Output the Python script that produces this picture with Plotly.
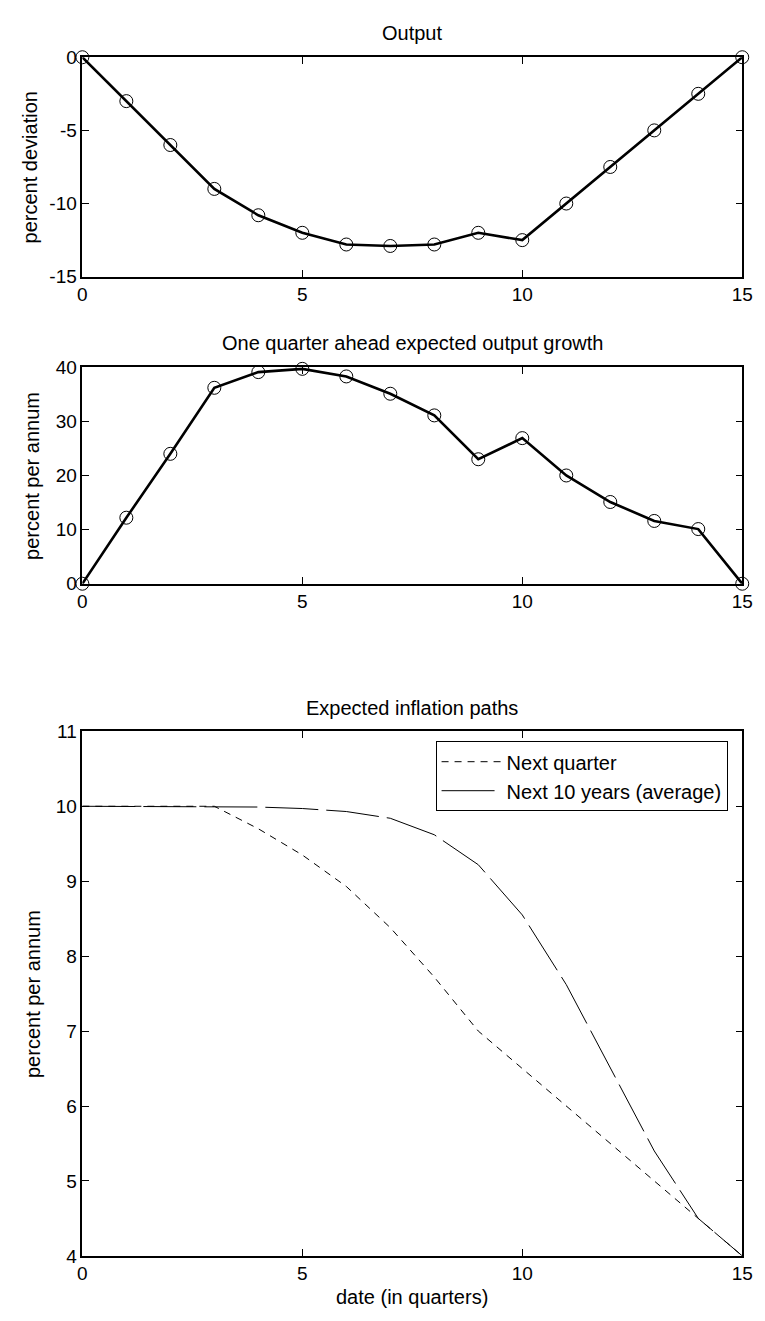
import plotly.graph_objects as go

quarters = list(range(16))
output_dev = [0, -3.0, -6.0, -9.0, -10.8, -12.0, -12.8, -12.9, -12.8, -12.0, -12.5, -10.0, -7.5, -5.0, -2.5, 0]
output_growth = [0, 12.2, 24.0, 36.2, 39.1, 39.7, 38.3, 35.1, 31.1, 23.0, 26.9, 20.0, 15.1, 11.6, 10.1, 0]
infl_next_quarter = [10, 10, 10, 10, 9.7, 9.35, 8.93, 8.38, 7.72, 7.0, 6.5, 6.0, 5.5, 5.0, 4.5, 4.0]
infl_next_10y = [10, 10, 10, 10, 9.99, 9.97, 9.93, 9.84, 9.62, 9.22, 8.55, 7.62, 6.5, 5.4, 4.5, 4.0]

titles = ["Output", "One quarter ahead expected output growth", "Expected inflation paths"]
ylabels = ["percent deviation", "percent per annum", "percent per annum"]
xlabel = "date (in quarters)"
legend_names = ["Next quarter", "Next 10 years (average)"]
xticks = [0, 5, 10, 15]
yticks1 = [-15, -10, -5, 0]
yticks2 = [0, 10, 20, 30, 40]
yticks3 = [4, 5, 6, 7, 8, 9, 10, 11]

W, H = 765, 1321
FONT = "Liberation Sans, Arial, Helvetica, sans-serif"
x0px, x1px = 79, 753
boxes = [(48, 271), (363, 583), (733, 1266)]  # top, bottom px

def ydom(t, b):
    return [1 - b / H, 1 - t / H]

fig = go.Figure()

fig.add_trace(go.Scatter(x=quarters, y=output_dev, mode="lines+markers",
                         line=dict(color="black", width=2.6),
                         marker=dict(symbol="circle-open", size=13, color="black", line=dict(width=1)),
                         cliponaxis=False, showlegend=False, xaxis="x", yaxis="y"))
fig.add_trace(go.Scatter(x=quarters, y=output_growth, mode="lines+markers",
                         line=dict(color="black", width=2.6),
                         marker=dict(symbol="circle-open", size=13, color="black", line=dict(width=1)),
                         cliponaxis=False, showlegend=False, xaxis="x2", yaxis="y2"))
fig.add_trace(go.Scatter(x=quarters, y=infl_next_quarter, mode="lines", name=legend_names[0],
                         line=dict(color="black", width=1, dash="7px,6px"),
                         xaxis="x3", yaxis="y3"))
fig.add_trace(go.Scatter(x=quarters, y=infl_next_10y, mode="lines", name=legend_names[1],
                         line=dict(color="black", width=1, dash="53px,8px"),
                         xaxis="x3", yaxis="y3"))

xdom = [x0px / W, x1px / W]
axis_common = dict(showline=True, linecolor="black", linewidth=1.5, mirror="ticks",
                   ticks="inside", ticklen=7, tickcolor="black", tickwidth=1,
                   showgrid=False, zeroline=False,
                   tickfont=dict(family=FONT, size=19, color="black"))

layout = dict(width=W, height=H, margin=dict(l=0, r=0, t=0, b=0),
              paper_bgcolor="white", plot_bgcolor="white",
              font=dict(family=FONT, size=20, color="black"))

yticks_all = [yticks1, yticks2, yticks3]
yranges = [[-15, 0], [0, 40], [4, 11]]
for i in range(3):
    s = "" if i == 0 else str(i + 1)
    layout["xaxis" + s] = dict(domain=xdom, range=[0, 15], tickvals=xticks,
                               ticktext=[str(v) for v in xticks],
                               anchor="y" + s, **axis_common)
    layout["yaxis" + s] = dict(domain=ydom(*boxes[i]), range=yranges[i], tickvals=yticks_all[i],
                               ticktext=[str(v) for v in yticks_all[i]],
                               anchor="x" + s, **axis_common)

annotations = []
ycenters_title = [23, 338, 709]
xcenter = (x0px + x1px) / 2 / W
for i in range(3):
    annotations.append(dict(text=titles[i], x=xcenter, y=1 - ycenters_title[i] / H,
                            xref="paper", yref="paper", showarrow=False,
                            xanchor="center", yanchor="middle", font=dict(size=20)))
ylab_x = [25, 28, 28]
for i in range(3):
    t, b = boxes[i]
    annotations.append(dict(text=ylabels[i], x=ylab_x[i] / W, y=1 - (t + b) / 2 / H,
                            xref="paper", yref="paper", showarrow=False, textangle=-90,
                            xanchor="center", yanchor="middle", font=dict(size=20)))
annotations.append(dict(text=xlabel, x=xcenter, y=1 - 1308 / H, xref="paper", yref="paper",
                        showarrow=False, xanchor="center", yanchor="middle", font=dict(size=20)))
layout["annotations"] = annotations

layout["legend"] = dict(x=738 / W, y=1 - 743 / H, xanchor="right", yanchor="top",
                        bordercolor="black", borderwidth=1, bgcolor="white",
                        font=dict(size=20), itemwidth=60, tracegroupgap=0)

fig.update_layout(**layout)
fig.write_html("out.html", config={"displayModeBar": False},
               post_script="document.body.style.margin='0';document.body.style.overflow='hidden';")
